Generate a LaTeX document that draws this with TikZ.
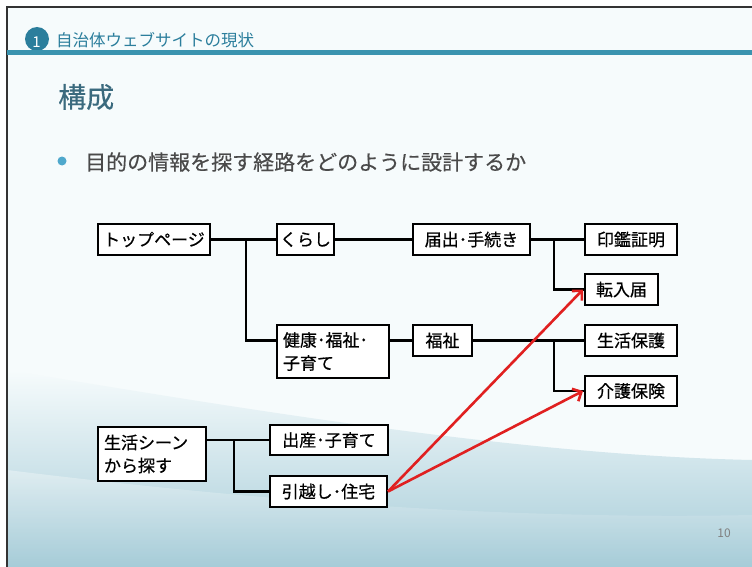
\documentclass[tikz,border=0pt]{standalone}
\usepackage{fontspec}
\setmainfont{Noto Sans CJK JP}
\newfontfamily\boxfont{Noto Sans CJK JP}[FakeBold=0.6]
\newfontfamily\semifont{Noto Sans CJK JP}[FakeBold=0.3]
\usetikzlibrary{arrows.meta,calc}
\definecolor{teal1}{HTML}{3A93AF}
\definecolor{teal2}{HTML}{2B7E9C}
\definecolor{titlec}{HTML}{3A6A7E}
\definecolor{bodyc}{HTML}{4A4A4A}
\definecolor{bulletc}{HTML}{4FA8CC}
\definecolor{bgtop}{HTML}{F6FBFC}
\definecolor{bgbot}{HTML}{A6CCD8}
\definecolor{redc}{HTML}{E02020}
\tikzset{
  box/.style={draw=black, line width=2pt, fill=white, inner sep=0pt,
    font=\boxfont\fontsize{17}{23}\selectfont, minimum height=31pt},
  boxml/.style={box, align=left, inner xsep=6pt, inner ysep=3pt},
  conn/.style={draw=black, line width=2.6pt},
  redarrow/.style={draw=redc, line width=2.6pt,
    -{Straight Barb[length=7pt,width=14pt,line width=2.6pt]}},
}
\begin{document}
\begin{tikzpicture}[x=1pt,y=-1pt]
\useasboundingbox (0,0) rectangle (752,567);
\fill[white] (0,0) rectangle (752,567);
% slide background
\fill[bgtop] (7,7) rectangle (752,567);
\shade[top color=bgtop, bottom color=bgbot]
  (7,370) .. controls (250,410) and (520,455) .. (752,460) -- (752,567) -- (7,567) -- cycle;
\shade[top color=white, bottom color=bgbot, opacity=0.35]
  (7,470) .. controls (250,500) and (500,520) .. (752,515) -- (752,567) -- (7,567) -- cycle;
\draw[line width=1.5pt, black!80] (7,567) -- (7,7) -- (752,7);
% header
\fill[teal2] (37,39) circle (12);
\node[text=white, font=\fontsize{15}{15}\selectfont, inner sep=0pt] (num) at (36.5,42) {1};
\fill[teal1] (7,50.5) rectangle (752,55);
\node[anchor=west, text=teal2, font=\fontsize{16.5}{18}\selectfont, inner sep=0pt] (hdr) at (56,40) {自治体ウェブサイトの現状};
\node[anchor=west, text=titlec, font=\semifont\fontsize{28}{30}\selectfont, inner sep=0pt] (title) at (58,97) {構成};
\fill[bulletc] (62,161) circle (4.5);
\node[anchor=west, text=bodyc, font=\semifont\fontsize{21}{24}\selectfont, inner sep=0pt] (bul) at (85,162) {目的の情報を探す経路をどのように設計するか};
% boxes
\node[box, minimum width=112pt] (top) at (154,239.5) {トップページ};
\node[box, minimum width=57pt] (kurashi) at (305.5,239.5) {くらし};
\node[boxml, text width=100pt, minimum height=53pt] (kenko) at (333,351.5) {健康･福祉･\\子育て};
\node[box, minimum width=117pt] (todoke) at (471.5,239.5) {届出･手続き};
\node[box, minimum width=92pt] (inkan) at (631,239.5) {印鑑証明};
\node[box, minimum width=73pt] (tennyu) at (621.5,289.5) {転入届};
\node[box, minimum width=59pt] (fukushi) at (442.5,340.5) {福祉};
\node[box, minimum width=92pt] (hogo) at (631,340.5) {生活保護};
\node[box, minimum width=92pt, minimum height=30pt] (kaigo) at (631,391) {介護保険};
\node[boxml, text width=96pt, minimum height=54pt] (scene) at (152,454) {生活シーン\\から探す};
\node[box, minimum width=118pt, minimum height=30pt] (shussan) at (329,440) {出産･子育て};
\node[box, minimum width=117pt] (hikkoshi) at (328.5,491.5) {引越し･住宅};
% connectors
\coordinate (b1) at (246,239.5);
\coordinate (b2) at (554,239.5);
\coordinate (b3) at (554,340.5);
\coordinate (b4) at (234,440);
\draw[conn] (top.east) -- (kurashi.west);
\draw[conn] (b1) |- (kenko.west |- fukushi.west);
\draw[conn] (kurashi.east) -- (todoke.west);
\draw[conn] (todoke.east) -- (inkan.west);
\draw[conn] (b2) |- (tennyu.west);
\draw[conn] (kenko.east |- fukushi.west) -- (fukushi.west);
\draw[conn] (fukushi.east) -- (hogo.west);
\draw[conn] (b3) |- (kaigo.west);
\draw[conn] (scene.east |- shussan.west) -- (shussan.west);
\draw[conn] (b4) |- (hikkoshi.west);
% red arrows
\draw[redarrow] (hikkoshi.east) -- ([xshift=-1pt]tennyu.west);
\draw[redarrow] (hikkoshi.east) -- ([xshift=-1pt]kaigo.west);
% page number
\node[text=black!50, font=\fontsize{12}{14}\selectfont, inner sep=0pt] (pg) at (724,533) {10};
\end{tikzpicture}
\end{document}
